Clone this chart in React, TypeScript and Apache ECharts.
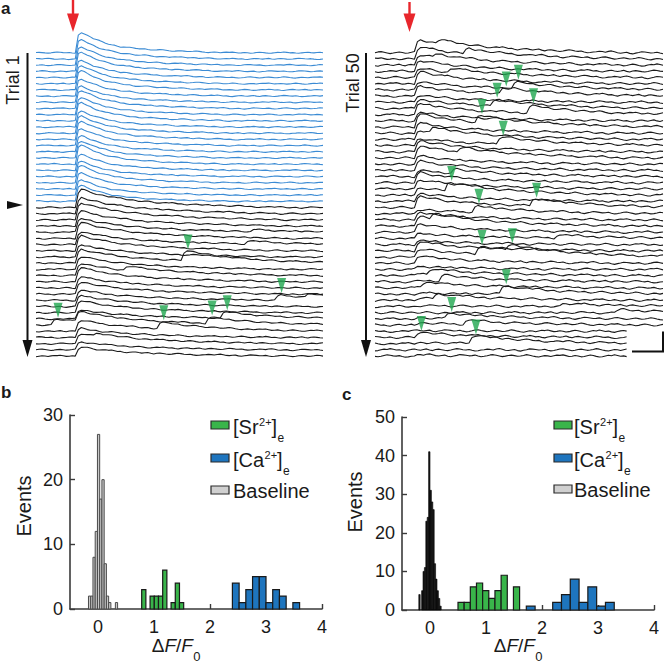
import React, { useEffect, useRef } from "react";
import * as echarts from "echarts";

// ---------- panel a : stacked fluorescence traces ----------
const TRACE_COUNT = 50;
const SAMPLE_COUNT = 96;
const STIM_INDEX = 14;
const TRACE_SPACING = 6.19;
const RIGHT_SHORT_FROM = 45;
const RIGHT_SHORT_LENGTH = 84;
const BLUE_TRACES = 25;

// normalised synchronous response (from the stimulus on)
const fastProfile = [0.9, 1.0, 0.93, 0.85, 0.78, 0.7, 0.64, 0.58, 0.53, 0.48, 0.44, 0.4, 0.37, 0.34, 0.31, 0.29, 0.27, 0.25, 0.23, 0.21, 0.2, 0.19, 0.18, 0.17, 0.16, 0.15, 0.14, 0.13, 0.12, 0.11, 0.1, 0.095, 0.09, 0.085, 0.08, 0.075, 0.07, 0.065, 0.06, 0.055, 0.05, 0.045, 0.04, 0.035, 0.03, 0.025, 0.02, 0.015, 0.01, 0.005];
// normalised slower response (black traces and asynchronous events)
const slowProfile = [0.8, 1.0, 0.95, 0.9, 0.85, 0.8, 0.76, 0.72, 0.68, 0.64, 0.61, 0.58, 0.55, 0.52, 0.5, 0.47, 0.45, 0.43, 0.41, 0.39, 0.37, 0.35, 0.34, 0.32, 0.31, 0.29, 0.28, 0.27, 0.26, 0.25, 0.24, 0.23, 0.22, 0.21, 0.2, 0.19, 0.18, 0.17, 0.165, 0.16, 0.15, 0.145, 0.14, 0.13, 0.125, 0.12, 0.115, 0.11, 0.1, 0.095, 0.09, 0.085, 0.08, 0.075, 0.07, 0.065, 0.06, 0.055, 0.05, 0.045, 0.04, 0.035, 0.03, 0.025, 0.02, 0.015, 0.01];
// baseline fluctuation
const traceNoise = [0.2, 0.5, 0.1, -0.3, -0.6, -0.2, 0.4, 0.9, 0.6, 0.1, -0.1, 0.3, -0.4, -0.9, -0.7, -0.2, 0.0, 0.5, 0.3, -0.1, 0.6, 1.0, 0.4, -0.3, -0.5, -0.1, 0.2, -0.6, -1.0, -0.4, 0.1, 0.7, 0.5, 0.2, -0.2, 0.0, 0.4, -0.3, -0.8, -0.5, 0.0, 0.6, 0.8, 0.3, -0.2, -0.7, -0.3, 0.2, 0.5, 0.1, -0.4, -0.2, 0.3, 0.9, 0.5, -0.1, -0.6, -0.9, -0.3, 0.2, 0.0, -0.5, 0.1, 0.6, 0.4, 0.8, 0.2, -0.4, -0.2, 0.3, -0.1, -0.7, -0.4, 0.2, 0.7, 0.3, -0.3, -0.8, -0.6, 0.0, 0.5, 0.2, 0.9, 0.4, -0.2, 0.1, -0.5, -0.9, -0.2, 0.3, 0.6, 0.1, -0.3, 0.2, 0.7, -0.1, -0.6];

const leftAmplitudes = [20, 19, 18, 19, 17, 18, 19, 17, 16, 18, 17, 18, 16, 17, 18, 17, 16, 17, 19, 16, 15, 17, 16, 15, 16,
  18, 16, 17, 15, 14, 16, 13, 15, 12, 14, 13, 12, 14, 11, 12, 10, 11, 12, 9, 10, 11, 9, 10, 8, 9];
const rightAmplitudes = [13, 12, 10, 11, 9, 12, 8, 10, 7, 9, 11, 8, 13, 10, 9, 7, 11, 12, 8, 9, 6, 10, 9, 7, 8, 11, 4, 7, 9, 8, 5, 4, 9, 8, 7,
  3, 2, 1, 2, 1, 2, 1, 0, 1, 2, 1, 0, 1, 0, 1];

// [trace, sample, amplitude]
const leftMarkedEvents = [[34, 49, 10], [40, 80, 5], [44, 6, 6], [45, 41, 6], [44, 57, 6], [43, 62, 6]];
const leftOtherEvents = [[40, 90, 4], [31, 70, 3], [36, 30, 4], [47, 20, 3], [29, 72, 2]];
const rightMarkedEvents = [[6, 46, 6], [7, 42, 6], [9, 39, 6], [10, 51, 7], [12, 34, 7], [15, 41, 7], [23, 24, 9], [25, 52, 7], [26, 33, 6], [33, 34, 8], [33, 44, 6], [39, 42, 8], [43, 24, 5], [46, 14, 5], [47, 32, 8]];
const rightOtherEvents = [[0, 21, 4], [1, 30, 5], [2, 20, 4], [4, 25, 4], [14, 19, 5], [17, 28, 5], [20, 26, 4], [28, 19, 6], [36, 18, 5], [37, 22, 6], [41, 62, 3], [42, 80, 3], [30, 60, 3], [38, 16, 4], [40, 20, 5], [44, 30, 4]];

// ---------- panels b, c : histograms (bin start, bin width, counts) ----------
const bBaseStart = -0.17, bBaseWidth = 0.04;
const bBaseCounts = [2, 2, 8, 12, 27, 17, 20, 7, 2, 1, 0, 0, 1];
const bSrStart = 0.78, bSrWidth = 0.075;
const bSrCounts = [3, 0, 2, 2, 2, 6, 0, 1, 4, 1];
const bCaStart = 2.4, bCaWidth = 0.12;
const bCaCounts = [4, 1, 3, 5, 5, 1, 3, 2, 0, 1];
const cBaseStart = -0.2, cBaseWidth = 0.025;
const cBaseCounts = [4, 0, 5, 10, 11, 23, 24, 41, 31, 28, 26, 12, 8, 5, 3, 1];
const cSrStart = 0.5, cSrWidth = 0.11;
const cSrCounts = [2, 2, 6, 7, 5, 3, 5, 9, 0, 6];
const cCaStart = 1.72, cCaWidth = 0.157;
const cCaCounts = [1, 0, 0, 2, 4, 8, 2, 6, 1, 2];
const xTickValues = [0, 1, 2, 3, 4];

const FONT = 'Arial, "Liberation Sans", Helvetica, sans-serif';
const GREEN = "#39b54a";
const BLUE = "#1e75be";
const TRACE_BLUE = "#3b8bd4";
const ARROW_GREEN = "#1fa64f";
const RED = "#e8262c";

function buildTrace(k: number, amp: number, profile: number[], events: number[][], noiseScale: number, shift: number, length: number) {
  const base = (TRACE_COUNT - 1 - k) * TRACE_SPACING;
  const pts: number[][] = [];
  for (let j = 0; j < length; j++) {
    let v = base + noiseScale * traceNoise[(j + shift) % traceNoise.length];
    if (j >= STIM_INDEX) {
      const o = j - STIM_INDEX;
      v += amp * (o < profile.length ? profile[o] : 0);
    }
    for (const [ek, ej, ea] of events) {
      if (ek === k && j >= ej) {
        const o = j - ej;
        v += ea * (o < slowProfile.length ? slowProfile[o] : 0);
      }
    }
    pts.push([j, v]);
  }
  return pts;
}

function arrowPoints(traces: number[][][], events: number[][]) {
  return events.map(([k, j]) => {
    const tr = traces[k];
    const y = Math.max(tr[j + 1][1], tr[j + 2][1]);
    return [j + 1.3, y + 9];
  });
}

function histSeries(start: number, width: number, counts: number[], fill: string, stroke: string, lw: number, axis: number) {
  const data = counts
    .map((c, i) => [start + i * width, start + (i + 1) * width, c])
    .filter((d) => d[2] > 0);
  return {
    type: "custom",
    xAxisIndex: axis,
    yAxisIndex: axis,
    data,
    encode: { x: [0, 1], y: 2 },
    silent: true,
    z: 3,
    renderItem: (_p: any, api: any) => {
      const a = api.coord([api.value(0), api.value(2)]);
      const b = api.coord([api.value(1), 0]);
      return {
        type: "rect",
        shape: { x: a[0], y: a[1], width: b[0] - a[0], height: b[1] - a[1] },
        style: { fill, stroke, lineWidth: lw },
      };
    },
  };
}

function histX(grid: number) {
  return {
    gridIndex: grid,
    type: "value",
    min: -0.5,
    max: 4,
    axisLine: { show: true, onZero: false, lineStyle: { color: "#3a3a3a", width: 1.6 } },
    axisTick: { show: true, inside: true, length: 5, customValues: xTickValues, lineStyle: { color: "#3a3a3a", width: 1.4 } },
    axisLabel: { customValues: xTickValues, fontSize: 18, color: "#1a1a1a", margin: 9, fontFamily: FONT },
    splitLine: { show: false },
  };
}

function histY(grid: number, max: number) {
  return {
    gridIndex: grid,
    type: "value",
    min: 0,
    max,
    interval: 10,
    axisLine: { show: true, onZero: false, lineStyle: { color: "#3a3a3a", width: 1.6 } },
    axisTick: { show: true, inside: true, length: 5, lineStyle: { color: "#3a3a3a", width: 1.4 } },
    axisLabel: { fontSize: 18, color: "#1a1a1a", margin: 7, fontFamily: FONT },
    splitLine: { show: false },
  };
}

function txt(text: string, x: number, y: number, size: number, opts: any = {}) {
  const align = opts.align || "left";
  const valign = opts.valign || "middle";
  return {
    type: "text",
    x,
    y,
    rotation: opts.rotation || 0,
    z: 10,
    silent: true,
    style: {
      text,
      fill: opts.color || "#1a1a1a",
      font: `${opts.italic ? "italic " : ""}${opts.bold ? "bold " : ""}${size}px ${FONT}`,
      align,
      verticalAlign: valign,
      textAlign: align,
      textVerticalAlign: valign,
    },
  };
}

const legendWidths: Record<string, number> = { "[Sr": 25.6, "[Ca": 31.1 };

function legendGraphics(boxX: number, textX: number, rows: number[]) {
  const out: any[] = [];
  const items = [
    { main: "[Sr", fill: GREEN },
    { main: "[Ca", fill: BLUE },
  ];
  items.forEach((it, i) => {
    const y = rows[i];
    out.push({ type: "rect", shape: { x: boxX, y: y - 4, width: 18, height: 8 }, style: { fill: it.fill, stroke: "#2a2a2a", lineWidth: 1.2 }, z: 10, silent: true });
    const w = legendWidths[it.main];
    out.push(txt(it.main, textX, y + 1.5, 20));
    out.push(txt("2+", textX + w + 0.5, y - 3.5, 11));
    out.push(txt("]", textX + w + 13, y + 1.5, 20));
    out.push(txt("e", textX + w + 19, y + 13, 12));
  });
  const yb = rows[2];
  out.push({ type: "rect", shape: { x: boxX, y: yb - 4, width: 18, height: 8 }, style: { fill: "#d0d0d0", stroke: "#2a2a2a", lineWidth: 1.2 }, z: 10, silent: true });
  out.push(txt("Baseline", textX, yb + 1, 20));
  return out;
}

function dffLabel(x0: number, y: number) {
  return [
    txt("Δ", x0, y, 19),
    txt("F", x0 + 12.7, y, 19, { italic: true }),
    txt("/", x0 + 24.3, y, 19),
    txt("F", x0 + 29.6, y, 19, { italic: true }),
    txt("0", x0 + 41.5, y + 11, 13),
  ];
}

function verticalArrow(x: number) {
  return [
    { type: "line", shape: { x1: x, y1: 53, x2: x, y2: 344 }, style: { stroke: "#111", lineWidth: 2 }, z: 10, silent: true },
    { type: "polygon", shape: { points: [[x - 5, 340], [x + 5, 340], [x, 357]] }, style: { fill: "#111" }, z: 10, silent: true },
  ];
}

function redArrow(x: number, top: number) {
  return [
    { type: "rect", shape: { x: x - 1.2, y: top, width: 2.4, height: 15 - top }, style: { fill: RED }, z: 10, silent: true },
    { type: "polygon", shape: { points: [[x - 6, 13.5], [x + 6, 13.5], [x, 32]] }, style: { fill: RED }, z: 10, silent: true },
  ];
}

function buildOption() {
  const leftEvents = [...leftMarkedEvents, ...leftOtherEvents];
  const rightEvents = [...rightMarkedEvents, ...rightOtherEvents];
  const leftTraces: number[][][] = [];
  const rightTraces: number[][][] = [];
  const n = traceNoise.length;
  for (let k = 0; k < TRACE_COUNT; k++) {
    const blue = k < BLUE_TRACES;
    leftTraces.push(buildTrace(k, leftAmplitudes[k], blue ? fastProfile : slowProfile, leftEvents, blue ? 0.7 : 0.9, (k * 17) % n, SAMPLE_COUNT));
    rightTraces.push(buildTrace(k, rightAmplitudes[k], slowProfile, rightEvents, 1.3, (k * 23 + 40) % n, k >= RIGHT_SHORT_FROM ? RIGHT_SHORT_LENGTH : SAMPLE_COUNT));
  }

  const series: any[] = [];
  leftTraces.forEach((pts, k) => {
    series.push({
      type: "line", xAxisIndex: 0, yAxisIndex: 0, data: pts, showSymbol: false, symbol: "none", silent: true,
      lineStyle: { color: k < BLUE_TRACES ? TRACE_BLUE : "#1a1a1a", width: 1.1 }, z: 2,
    });
  });
  rightTraces.forEach((pts) => {
    series.push({
      type: "line", xAxisIndex: 1, yAxisIndex: 1, data: pts, showSymbol: false, symbol: "none", silent: true,
      lineStyle: { color: "#1a1a1a", width: 1.1 }, z: 2,
    });
  });
  series.push({
    type: "scatter", xAxisIndex: 0, yAxisIndex: 0, data: arrowPoints(leftTraces, leftMarkedEvents),
    symbol: "triangle", symbolSize: [9, 15], symbolRotate: 180, itemStyle: { color: ARROW_GREEN }, z: 5, silent: true,
  });
  series.push({
    type: "scatter", xAxisIndex: 1, yAxisIndex: 1, data: arrowPoints(rightTraces, rightMarkedEvents),
    symbol: "triangle", symbolSize: [9, 15], symbolRotate: 180, itemStyle: { color: ARROW_GREEN }, z: 5, silent: true,
  });

  series.push(histSeries(bBaseStart, bBaseWidth, bBaseCounts, "#c8c8c8", "#4a4a4a", 1, 2));
  series.push(histSeries(bSrStart, bSrWidth, bSrCounts, GREEN, "#1a1a1a", 1.2, 2));
  series.push(histSeries(bCaStart, bCaWidth, bCaCounts, BLUE, "#1a1a1a", 1.2, 2));
  series.push(histSeries(cBaseStart, cBaseWidth, cBaseCounts, "#1a1a1a", "#000", 0.6, 3));
  series.push(histSeries(cSrStart, cSrWidth, cSrCounts, GREEN, "#1a1a1a", 1.2, 3));
  series.push(histSeries(cCaStart, cCaWidth, cCaCounts, BLUE, "#1a1a1a", 1.2, 3));

  const graphic: any[] = [
    txt("a", 1, 8.5, 17, { bold: true }),
    txt("b", 1, 392, 17, { bold: true }),
    txt("c", 342, 394.5, 17, { bold: true }),
    txt("Trial 1", 13, 80, 18, { align: "center", rotation: Math.PI / 2 }),
    txt("Trial 50", 353, 83, 18, { align: "center", rotation: Math.PI / 2 }),
    ...verticalArrow(27.5),
    ...verticalArrow(366),
    { type: "polygon", shape: { points: [[7, 201], [23, 205], [7, 209]] }, style: { fill: "#111" }, z: 10, silent: true },
    ...redArrow(73, 0),
    ...redArrow(409.5, 2),
    { type: "polyline", shape: { points: [[632, 351.5], [663, 351.5], [663, 331.5]] }, style: { stroke: "#111", lineWidth: 2, fill: "none" }, z: 10, silent: true },
    txt("Events", 24, 506, 20, { align: "center", rotation: Math.PI / 2 }),
    txt("Events", 355, 502, 20, { align: "center", rotation: Math.PI / 2 }),
    ...dffLabel(151.7, 645),
    ...dffLabel(493.7, 645),
    ...legendGraphics(211, 233, [425, 458, 490]),
    ...legendGraphics(554, 574, [425, 458, 489]),
  ];

  return {
    animation: false,
    backgroundColor: "#ffffff",
    grid: [
      { left: 36, top: 20, width: 287, height: 342 },
      { left: 375, top: 20, width: 288, height: 342 },
      { left: 70, top: 415, width: 252, height: 194 },
      { left: 402, top: 417, width: 252, height: 193 },
    ],
    xAxis: [
      { gridIndex: 0, type: "value", min: 0, max: SAMPLE_COUNT - 1, show: false },
      { gridIndex: 1, type: "value", min: 0, max: SAMPLE_COUNT - 1, show: false },
      histX(2),
      histX(3),
    ],
    yAxis: [
      { gridIndex: 0, type: "value", min: -6, max: 336, show: false },
      { gridIndex: 1, type: "value", min: -6, max: 336, show: false },
      histY(2, 30),
      histY(3, 50),
    ],
    series,
    graphic,
  };
}

export default function App() {
  const ref = useRef<HTMLDivElement>(null);
  useEffect(() => {
    const chart = echarts.init(ref.current!, null, { renderer: "svg" });
    chart.setOption(buildOption() as any);
    return () => chart.dispose();
  }, []);
  return <div ref={ref} style={{ position: "fixed", left: 0, top: 0, width: 664, height: 662, background: "#fff" }} />;
}
